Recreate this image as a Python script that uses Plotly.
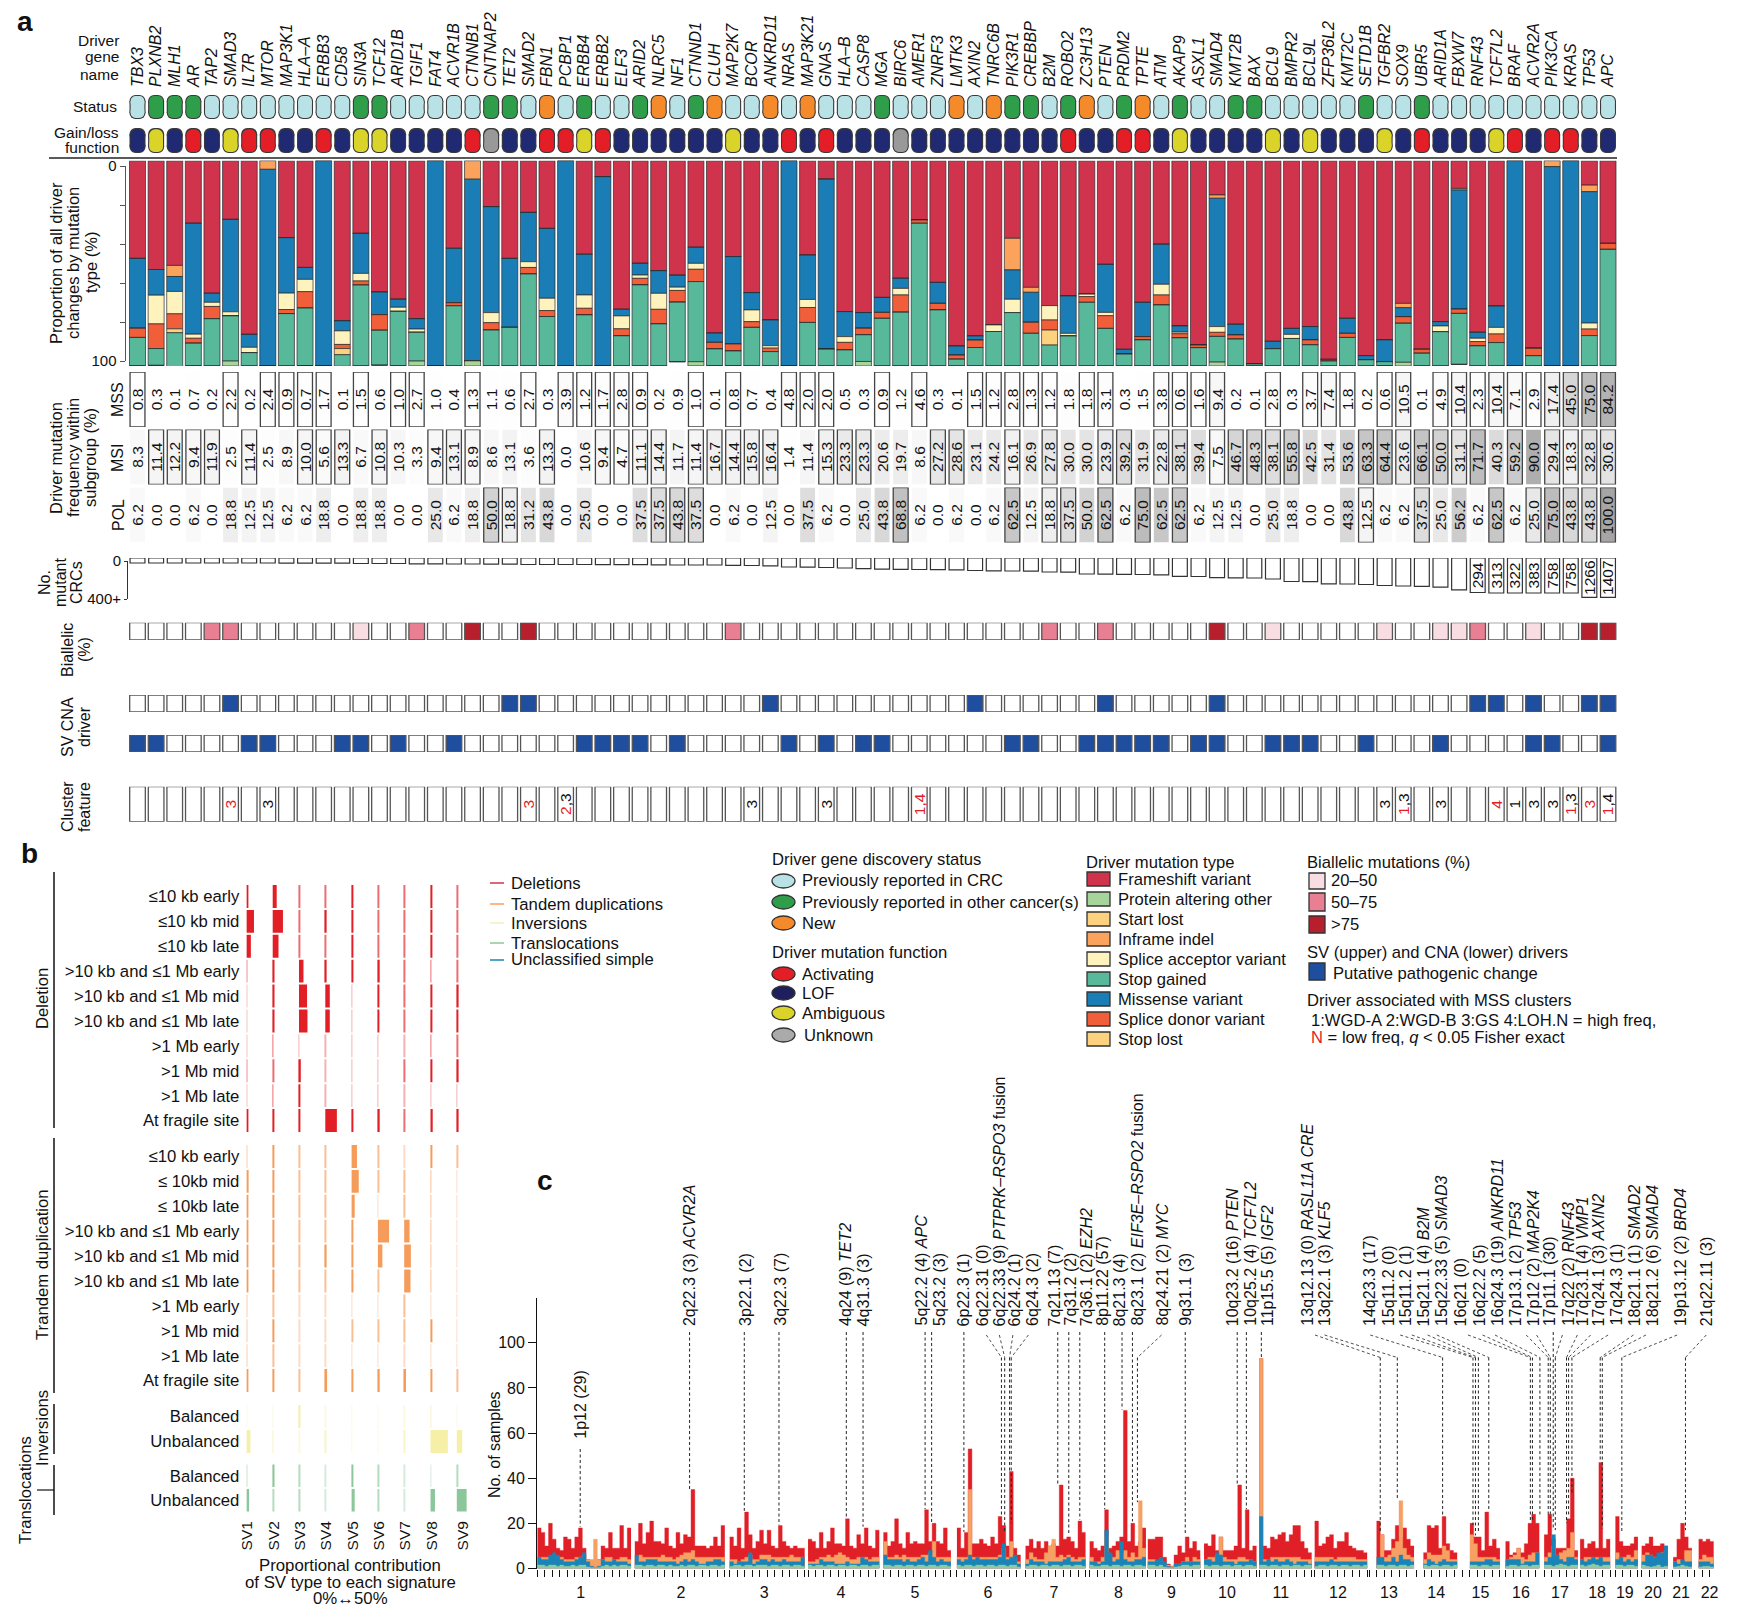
import numpy as np
import plotly.graph_objects as go

W, H = 1752, 1608
FONT = "Liberation Sans"

# ---------------------------- panel a data ----------------------------
genes = """TBX3 PLXNB2 MLH1 AR TAP2 SMAD3 IL7R MTOR MAP3K1 HLA–A ERBB3 CD58 SIN3A TCF12 ARID1B TGIF1 FAT4 ACVR1B CTNNB1 CNTNAP2
TET2 SMAD2 FBN1 PCBP1 ERBB4 ERBB2 ELF3 ARID2 NLRC5 NF1 CTNND1 CLUH MAP2K7 BCOR ANKRD11 NRAS MAP3K21 GNAS HLA–B CASP8
MGA BIRC6 AMER1 ZNRF3 LMTK3 AXIN2 TNRC6B PIK3R1 CREBBP B2M ROBO2 ZC3H13 PTEN PRDM2 TPTE ATM AKAP9 ASXL1 SMAD4 KMT2B
BAX BCL9 BMPR2 BCL9L ZFP36L2 KMT2C SETD1B TGFBR2 SOX9 UBR5 ARID1A FBXW7 RNF43 TCF7L2 BRAF ACVR2A PIK3CA KRAS TP53 APC""".split()

status = list("COOOCCCCCCCCOOCCCCCO" "OCNCOCCONCONCCNCNCCC" "OCCCNCNOOCONCONCOCCO" "OCCCCCOCCOCCCCCCCCCC")
function = list("LYLALYAALLALYYLLLLAU" "LLAAYALLLLLLYLLALALL" "LULLLLLLLLALLAALYLLL" "LYLYLLLYLALLLYALAALL")

frameshift = [47.6,53,51,30.5,64.6,28.6,84.6,0,37.5,52, 0,78,35.4,64,67.5,77,0,42.7,0,22.4,
              47.6,25.2,33,0,45.6,7.8,72.4,50,53.6,55.8, 42.2,84,46.7,64.3,77.6,0,46,9,73.5,74,
              66.6,57.3,28.9,59.3,90.3,85.4,80,37.8,61.7,70.6, 65.9,65,50.5,91.9,69,40.7,80.5,89.8,16.7,79.7,
              99,88,81.7,80.8,96.8,76.8,95,87.3,69.5,91.9, 78.4,13.5,83.6,70.8,0,91.4,0,0,11.9,40.3]
inframe = [0,0,5.4,0,0,0,0,4.2,0,0, 0,0,0,0,0,0,0,0,9,0, 0,0,0,0,0,0,0,0,0,0, 0,0,0,0,0,0,0,0,0,0,
           0,0,0,0,0,0,0,15.4,2.4,0, 0,0,0,0,0,0,0,0,1.6,0, 0,0,0,0,0,0,0,0,2.1,0, 0,0.8,0,0,0,0,2.9,0,3.2,0]
missense = [34,12.5,7.3,54,4.4,45,6.3,95.8,27,5.8, 100,4.9,19.5,11,3.9,5,100,26.5,88.5,51.6,
            33.6,24,34,100,19.8,92.2,3.2,5.7,11,5.8, 7.8,4.5,42.6,8.4,12.5,100,21.6,82.8,12.2,7.6,
            7.3,4.9,0,10.2,4.4,2,0,14.3,14.6,0, 18.2,0,23.4,2.3,16.7,19.5,3,0,62.5,5.2,
            0,3.6,2.9,6.5,0,7.3,2,10.6,4.4,0, 2.1,58,2.9,10.4,100,0,97.1,100,64,0]
acceptor = [0,14,10.9,2,2,2,2.6,0,8,6, 0,6.6,3.7,0,2,1.6,0,0,0,4.9,
            0,2.8,6,0,6.5,0,6.3,1.6,7.8,1.6, 2.9,0,0,5.7,1.2,0,3.9,0,2.8,0,
            0,3.2,0,0,0,0,3.2,6.5,0,7, 1.3,1.2,1.6,0,0,5.2,0.8,0,2.8,0,
            0,0,2,0,0,0,0,0,0,0, 2.8,0,1.6,3.2,0,0,0,0,2.9,0]
donor = [4.5,12,7.3,2.4,6,0,0,0,2,8, 0,2,2,7.6,0,0,0,1.5,0,3.6,
         0,3.2,2.9,0,3.2,0,3.4,3.2,7.1,5.7, 6,3.2,3.4,2.8,1.7,0,7.3,0,3.7,3.2,
         2.9,8.4,1.6,3.2,2,3.6,0,0,5.4,4.9, 0,2.8,6.2,0,1.6,4.9,2,1.3,2,2,
         0,0,0,2.4,0.8,2,0,0,3.2,1.9, 0,2.1,2.1,4.2,0,3.6,0,0,3.2,2.9]
start_lost = [0,0,1.9,0,0,0,0,0,0,0, 0,3,0,0,0,0,0,0,0,0, 0,0,0,0,0,0,0,0,0,0, 0,0,0,0,0,0,0,0,0,0,
              0,0,0,0,0,0,0,0,0,7.3, 0,0,0,0,0,0,0,0,0,0, 0,0,0,0,0,0,0,0,0,0, 0,0,0,0,0,0,0,0,0,0]
stop_gained = [13.8,8.2,16.6,11,23,22,6.5,0,25.5,28, 0,5.7,39.4,17,26.5,14,0,29.3,0,17.5,
               18.8,44.8,24,0,24.9,0,14.7,39.5,20.5,29, 39,8.2,7.2,18.8,7,0,21.2,8.2,7.8,13,
               23.2,26.2,69.5,27.3,3.3,9,16.8,26,15.9,10.2, 14.6,31,18.3,5.8,12.7,29.7,13.7,8.9,12.5,13.1,
               1,8.4,13.4,10.3,2.4,13.9,3,2,19,6.2, 16.7,24.8,9.8,11.4,0,5,0,0,14.8,56.8]
protein_other = [0,0,0,0,0,2.4,0,0,0,0, 0,0,0,0,0,2.3,0,0,2.5,0, 0,0,0,0,0,0,0,0,0,0, 2,0,0,0,0,0,0,0,0,2.2,
                 0,0,0,0,0,0,0,0,0,0, 0,0,0,0,0,0,0,0,1.9,0, 0,0,0,0,0,0,0,0,1.8,0, 0,0,0,0,0,0,0,0,0,0]

mss = [0.8,0.3,0.1,0.7,0.2,2.2,0.2,2.4,0.9,0.7, 1.7,0.1,1.5,0.6,1.0,2.7,1.0,0.4,1.3,1.1,
       0.6,2.7,0.3,3.9,1.2,1.7,2.8,0.9,0.2,0.9, 1.0,0.1,0.8,0.7,0.4,4.8,2.0,2.0,0.5,0.3,
       0.9,1.2,4.6,0.3,0.1,1.5,1.2,2.8,1.3,1.2, 1.8,1.8,3.1,0.3,1.5,3.8,0.6,1.6,9.4,0.2,
       0.1,2.8,0.3,3.7,7.4,1.8,0.2,0.6,10.5,0.1, 4.9,10.4,2.3,10.4,7.1,2.9,17.4,45.0,75.0,84.2]
msi = [8.3,11.4,12.2,9.4,11.9,2.5,11.4,2.5,8.9,10.0, 5.6,13.3,6.7,10.8,10.3,3.3,9.4,13.1,8.9,8.6,
       13.1,3.6,13.3,0.0,10.6,9.4,4.7,11.1,14.4,11.7, 11.4,16.7,14.4,15.8,16.4,1.4,11.4,15.3,23.3,23.3,
       20.6,19.7,8.6,27.2,28.6,23.1,24.2,16.1,26.9,27.8, 30.0,30.0,23.9,39.2,31.9,22.8,38.1,39.4,7.5,46.7,
       48.3,38.1,55.8,42.5,31.4,53.6,63.3,64.4,23.6,66.1, 50.0,31.1,71.7,40.3,59.2,90.0,29.4,18.3,32.8,30.6]
pol = [6.2,0,0,6.2,0,18.8,12.5,12.5,6.2,6.2, 18.8,0,18.8,18.8,0,0,25,6.2,18.8,50,
       18.8,31.2,43.8,0,25,0,0,37.5,37.5,43.8, 37.5,0,6.2,0,12.5,0,37.5,6.2,0,25,
       43.8,68.8,6.2,0,6.2,0,6.2,62.5,12.5,18.8, 37.5,50,62.5,6.2,75,62.5,62.5,6.2,12.5,12.5,
       0,25,18.8,0,0,43.8,12.5,6.2,6.2,37.5, 25,56.2,6.2,62.5,6.2,25,75,43.8,43.8,100]
mss_boxed = [1,6,8,9,10,11,13,15,16,19,22,24,25,26,27,28,31,33,36,37,38,41,43,46,47,48,49,50,52,53,56,57,58,59,62,64,65,66,68,69,71,72,73,74,75,76,77,78,79,80]
msi_boxed = [2,3,4,5,7,10,11,12,14,17,18,19,23,26,27,28,29,31,32,33,34,35,38,39,40,44,45,48,50,53,54,56,57,59,60,61,62,63,67,68,69,70,71,72,73,75,77,78,79,80]
pol_boxed = [20,21,29,30,31,42,48,50,51,53,55,57,67,70,74,76,77,78,79,80]

mutant_depth = [50,50,50,50,50,50,50,50,52,52, 52,52,55,55,55,58,58,60,60,62, 62,65,65,65,65,67,67,67,68,70,
                70,70,73,75,78,90,92,95,100,107, 112,113,115,117,118,125,128,130,132,140, 142,160,162,163,165,168,183,185,197,198,
                200,210,235,237,258,260,265,275,280,283, 292,318,345,350,350,350,350,350,393,393]
mutant_counts = {73: "294", 74: "313", 75: "322", 76: "383", 77: "758", 78: "758", 79: "1266", 80: "1407"}

biallelic_light = [13,62,68,71,72,76]
biallelic_mid = [5,6,16,33,50,53,73]
biallelic_dark = [19,22,59,79,80]
sv_driver = [6,21,22,35,46,53,59,73,74,76,79,80]
cna_driver = [1,2,7,8,12,13,15,18,25,26,27,28,30,36,38,40,41,48,49,52,53,54,55,56,58,59,62,63,64,67,71,76,77,80]
RED = '<span style="color:#E41E26">%s</span>'
cluster_feature = {6: RED % "3", 8: "3", 22: RED % "3", 24: RED % "2" + ",3", 34: "3", 38: "3", 43: RED % "1,4",
                   68: "3", 69: RED % "1" + ",3", 71: "3", 74: RED % "4", 75: "1", 76: "3", 77: "3",
                   78: RED % "1" + ",3", 79: RED % "3", 80: RED % "1" + ",4"}

# ---------------------------- panel b data (percent) ----------------------------
sv_names = ["SV1","SV2","SV3","SV4","SV5","SV6","SV7","SV8","SV9"]
size_rows = ["≤10 kb early","≤10 kb mid","≤10 kb late",">10 kb and ≤1 Mb early",">10 kb and ≤1 Mb mid",
             ">10 kb and ≤1 Mb late",">1 Mb early",">1 Mb mid",">1 Mb late","At fragile site"]
dup_rows = ["≤10 kb early","≤ 10kb mid","≤ 10kb late",">10 kb and ≤1 Mb early",">10 kb and ≤1 Mb mid",
            ">10 kb and ≤1 Mb late",">1 Mb early",">1 Mb mid",">1 Mb late","At fragile site"]
bal_rows = ["Balanced","Unbalanced"]
deletion_pct = [[3.4,7.6,1.7,1.3,2.1,1.7,1.7,2.5,1.3],[14.4,19.5,1.7,2.5,2.5,1.3,1.7,2.5,1.3],[8.5,11,1.7,1.7,2.1,1.7,1.3,2.5,1.3],
                [1.3,3.4,8.5,2.5,2.5,3.4,1.7,1.7,1.7],[0.85,3.4,15.3,8.5,0.85,2.1,1.7,2.5,3.4],[0.85,3.4,16.1,8.5,0.85,2.1,1.7,2.5,2.5],
                [0.4,1.3,0.4,0.85,0.4,0.85,0.85,1.7,1.3],[1.3,1.7,3.4,0.85,0.4,0.85,1.3,3.4,3.4],[0.85,1.3,2.1,0.85,0.4,0.4,0.85,0.85,0.85],
                [3.4,2.5,2.5,22,2.5,3.4,1.7,4.2,3.4]]
tandem_pct = [[1.7,2.5,1.7,1.3,10.2,1.7,0.85,3.4,1.3],[4.2,2.5,1.7,1.3,13.6,1.7,1.7,1.7,0.85],[3.4,2.5,1.7,1.3,5.9,0.85,1.7,1.7,0.85],
              [2.5,2.5,1.7,1.3,2.1,21.2,10.2,1.7,0.85],[2.5,2.5,1.3,2.5,2.5,8.5,12.7,1.7,0.85],[3.4,2.5,1.3,1.7,2.1,1.7,11.9,1.7,0.85],
              [1.3,1.7,0.85,0.85,0.4,0.4,1.3,0.85,0.4],[1.3,2.1,0.85,0.85,1.7,1.3,1.7,3.4,0.85],[1.3,1.7,0.85,0.85,0.4,0.4,0.85,0.85,0.4],
              [3.4,2.5,1.7,3.4,2.1,3.4,3.4,3.4,1.7]]
inversion_pct = [[0.85,0.85,2.5,0.85,0.4,0.4,0.85,1.7,0.85],[7.6,1.3,0.85,1.3,0.4,0.85,1.3,33,10.2]]
transloc_pct = [[1.7,3.4,1.7,0.85,2.5,1.7,0.85,0.85,1.3],[5.1,1.7,1.7,0.85,5.9,1.7,0.85,8.5,18.7]]

# ---------------------------- panel c data (10 Mb bins, per chromosome) ----------------------------
chrom_start_mb = [0,260,513,722,923,1119,1302,1473,1628,1778,1925,2073,2238,2363,2487,2582,2685,2781,2875,2945,3029,3097]
chrom_label_mb = [116,383,605,810,1007,1202,1378,1550,1691,1839,1983,2135,2271,2397,2515,2623,2727,2826,2900,2975,3050,3126]
chrom_tick_start_mb = [0,260,513,722,923,1119,1302,1473,1628,1778,1925,2073,2219,2345,2466,2582,2685,2781,2875,2945,3027,3086]
chrom_names = [str(i) for i in range(1, 23)]
deletions_top = [
 [18,16,10,20,13,9,8,14,13,9,14,18,9,4,3,3,4,10,9,16,9,9,19,9,18],
 [12,20,11,16,21,12,12,11,18,10,9,16,11,15,14,35,10,10,10,9,10,14,10,19],
 [14,10,18,9,25,15,9,12,17,11,17,10,9,19,12,10,9,10,9,9],
 [13,12,9,16,9,12,18,11,11,10,22,10,9,15,11,18,10,9,17],
 [16,10,12,22,11,9,16,11,12,11,11,26,12,20,12,11,18,8],
 [18,9,16,53,11,11,13,11,10,14,11,23,19,10,43,9,6],
 [10,13,9,12,9,12,10,11,10,37,13,14,12,9,21,16],
 [12,9,8,10,26,9,10,12,14,70,12,20,10,12,18],
 [13,13,14,14,5,2,1,6,10,7,14,9,12,8],
 [11,10,15,8,14,8,8,8,10,37,9,26,8,10],
 [93,10,9,14,13,15,16,12,15,19,19,12,9,7],
 [21,10,11,14,15,9,12,12,16,10,9,8,8,7],
 [21,15,8,8,13,19,14,18,13,10],
 [7,19,18,19,9,23,11,8,7],
 [20,14,14,8,25,10,13,9],
 [12,6,7,9,7,11,20,24,20],
 [15,24,13,9,9,9,22,40,8],
 [13,9,11,12,9,47,9,13],
 [23,12,10,10,11,14],
 [10,11,14,10,10,11,10],
 [5,13,20,14,9],
 [13,12,13,12]]
tandem_top = [
 [5,5,5,5,6,5,5,4,4,4,5,5,6,4,4,13,4,4,5,5,4,4,5,5,4],
 [5,6,5,5,5,5,5,6,5,5,4,5,6,7,7,8,5,5,5,5,5,5,5,5],
 [4,4,3,4,5,6,4,4,6,6,6,5,5,5,5,5,6,5,5,5],
 [3,3,4,5,5,6,5,6,7,6,5,4,4,5,5,5,4,5,5],
 [12,5,5,6,5,6,5,5,5,5,6,6,7,12,5,5,5,5],
 [5,5,5,35,5,5,5,5,5,5,5,6,9,5,12,5,3],
 [4,7,5,4,4,7,10,13,5,6,5,6,5,4,5,5],
 [5,3,3,5,14,5,5,8,7,8,5,7,5,30,9],
 [4,4,3,4,2,1.5,1,2,2,3,5,3,5,4],
 [4,5,5,6,14,5,4,4,4,5,5,4,4,3],
 [93,4,4,5,5,5,5,5,5,5,5,4,4,4],
 [5,5,5,5,5,4,5,5,5,5,5,4,4,4],
 [4,15,5,6,9,12,30,9,6,5],
 [4,7,6,6,6,10,8,4,4],
 [15,11,5,5,5,5,5,4],
 [4,5,6,9,5,4,6,7,7],
 [5,7,10,6,7,8,9,16,5],
 [4,5,5,5,5,5,5,5],
 [7,5,5,6,5,8],
 [6,7,6,5,5,7,8],
 [3,4,3,8,8],
 [4,6,5,5]]
unclassified_top = [
 [5,4,4,6,7,6,4,3,3,3,4,5,7,3,1,0.5,1,4,3,3,4,3,3,3,2],
 [6,3,3,4,4,4,3,3,3,3,3,2,3,4,3,4,3,2,2,3,3,4,4,3],
 [3,2,3,3,3,7,2,3,4,4,3,4,3,3,4,3,3,3,3,5],
 [2,2,2,4,3,3,3,2,2,2,3,2,2,2,5,4,3,3,3],
 [6,4,4,4,4,3,4,3,3,4,5,3,8,5,3,4,3,3],
 [4,3,4,6,4,5,4,4,4,4,4,5,11,4,5,6,2],
 [2,4,3,3,3,2,3,3,3,3,4,5,3,3,3,4],
 [3,3,2,3,17,7,3,4,12,4,3,3,4,4,5],
 [3,3,4,5,3,1,0.5,2,2,3,3,3,3,3],
 [4,4,3,7,6,3,3,3,2,3,3,3,4,3],
 [23,3,4,3,4,3,3,4,3,2,3,3,3,2],
 [3,3,3,3,4,3,3,3,3,3,3,3,3,3],
 [5,5,3,3,5,3,6,4,4,3],
 [2,4,3,2,3,4,3,3,3],
 [3,3,3,3,4,4,3,3],
 [4,4,4,4,2,3,3,3,7],
 [3,5,15,6,4,3,5,5,4],
 [4,3,4,5,4,5,3,3],
 [4,5,3,4,3,4],
 [3,6,6,5,7,7,10],
 [3,2,4,3,3],
 [3,3,3,2]]
translocations_top = [
 [1.5,1.5,1,1.5,1.5,1,1.5,1,1,1.5,1,1.5,1.5,0.7,0.4,0.4,0.4,1,1.5,1,1.5,1,1.5,1.5,1],
 [1.5,1.5,1,1.5,1.5,1,1.5,1.5,1,1.5,1,1,1.5,1,1.5,1.5,1,1.5,1.5,1,1.5,1.5,1,1.5],
 [1,1.5,1.5,1,1.5,1.5,1,1.5,1.5,1.5,1,1.5,1.5,1,1.5,1.5,1,1.5,1.5,1],
 [1.5,1,1.5,1.5,1,1.5,1.5,1,1.5,1.5,1,1.5,1.5,1,1.5,1.5,1,1.5,1.5],
 [1.5,1.5,1,1.5,1.5,1,1.5,1.5,1,1.5,1.5,1,1.5,1.5,1,1.5,1.5,1],
 [1.5,1,1.5,1.5,1,1.5,1.5,1,1.5,1.5,1,1.5,1.5,1,1.5,1.5,0.7],
 [1,1.5,1.5,1,1.5,1.5,1,1.5,1.5,1,1.5,1.5,1,1.5,1.5,1],
 [1.5,1,1,1.5,1.5,1,1.5,1.5,1,1.5,1.5,1,1.5,1.5,1],
 [1.5,1.5,1,1.5,0.7,0.4,0.4,0.7,1,1.5,1.5,1,1.5,1.5],
 [1.5,1,1.5,1.5,1,1.5,1.5,1,1.5,1.5,1,1.5,1.5,1],
 [1.5,1.5,1,1.5,1.5,1,1.5,1.5,1,1.5,1.5,1,1.5,1.5],
 [1,1.5,1.5,1,1.5,1.5,1,1.5,1.5,1,1.5,1.5,1,1.5],
 [1.5,1.5,1,1.5,1.5,1,1.5,1.5,1,1.5],
 [1.5,1,1.5,1.5,1,1.5,1.5,1,1.5],
 [1.5,1.5,1,1.5,1.5,1,1.5,1.5],
 [1,1.5,1.5,1,1.5,1.5,1,1.5,1.5],
 [1.5,1.5,1,1.5,2,1.5,1,1.5,1.5],
 [1.5,1,1.5,2,1.5,1,1.5,1.5],
 [1.5,1.5,1,1.5,1.5,1],
 [1.5,1,0.7,1,1.5,0.7,1],
 [0.7,1,1.5,1,0.7],
 [0.7,1,1,0.7]]

# labels of panel c; leaders given as (label, label x, leader x at top, leader x at bottom, leader bottom y)
labels_left = [("1p12 (29)",270,270,270,1335),("2q22.3 (3) <i>ACVR2A</i>",538,538,538,1228),("3p22.1 (2)",675,672,672,1290),
 ("3q22.3 (7)",760,757,757,1330),("4q24 (9) <i>TET2</i>",920,922,922,1310),("4q31.3 (3)",965,963,963,1335),
 ("5q22.2 (4) <i>APC</i>",1105,1115,1115,1285),("5q23.2 (3)",1150,1131,1131,1325),("6p22.3 (1)",1210,1210,1210,1350),
 ("6q22.31 (0)",1255,1265,1302,1305),("6q22.33 (9) <i>PTPRK–RSPO3</i> fusion",1297,1297,1310,1350),
 ("6q24.2 (1)",1335,1330,1322,1180),("6q24.3 (2)",1378,1368,1326,1325),("7q21.13 (7)",1432,1440,1440,1215),
 ("7q31.2 (2)",1470,1467,1467,1360),("7q36.1 (2) <i>EZH2</i>",1510,1494,1494,1315),("8p11.22 (57)",1548,1555,1555,1285)]
labels_right = [("8q21.3 (4)",48,53,53,1000),("8q23.1 (2) <i>EIF3E–RSPO2</i> fusion",88,78,78,1320),
 ("8q24.21 (2) <i>MYC</i>",148,148,90,1265),("9q31.1 (3)",205,205,205,1360),("10q23.2 (16) <i>PTEN</i>",318,330,330,1212),
 ("10q25.2 (4) <i>TCF7L2</i>",360,352,352,1285),("11p15.5 (5) <i>IGF2</i>",403,388,388,850),
 ("13q12.13 (0) <i>RASL11A CRE</i>",497,517,674,1350),("13q22.1 (3) <i>KLF5</i>",540,540,715,1260),
 ("14q23.3 (17)",648,650,824,1305),("15q11.2 (0)",694,722,897,1330),("15q11.2 (1)",735,750,903,1360),
 ("15q21.1 (4) <i>B2M</i>",778,788,910,1350),("15q22.33 (5) <i>SMAD3</i>",820,810,935,1290),("16q21 (0)",868,885,1035,1320),
 ("16q22.2 (5)",912,920,1040,1315),("16q24.3 (19) <i>ANKRD11</i>",955,950,1058,1300),("17p13.1 (2) <i>TP53</i>",1000,1025,1078,1300),
 ("17p12 (2) <i>MAP2K4</i>",1042,1050,1083,1310),("17p11.1 (30)",1080,1090,1090,1345),("17q22 (2) <i>RNF43</i>",1125,1112,1095,1345),
 ("17q23.1 (4) <i>VMP1</i>",1160,1148,1122,1325),("17q24.1 (3) <i>AXIN2</i>",1200,1180,1127,1300),("17q24.3 (1)",1240,1222,1135,1240),
 ("18q21.1 (1) <i>SMAD2</i>",1285,1283,1203,1150),("18q21.2 (6) <i>SMAD4</i>",1328,1313,1208,1340),
 ("19p13.12 (2) <i>BRD4</i>",1395,1388,1255,1350),("21q22.11 (3)",1458,1458,1408,1345)]

# ---------------------------- colours ----------------------------
STATUS_COL = {"C": "#B8E2E6", "O": "#2E9E4B", "N": "#F58A2A"}
FUNC_COL = {"A": "#E41E26", "L": "#1F2A72", "Y": "#DAD42A", "U": "#999999"}
TYPE_COL = {"Frameshift variant": "#D0344C", "Protein altering other": "#A6D49A", "Start lost": "#FDD27E",
            "Inframe indel": "#FBA35C", "Splice acceptor variant": "#FEF3BC", "Stop gained": "#58B99A",
            "Missense variant": "#1B7DB5", "Splice donor variant": "#F15F3A", "Stop lost": "#FDD27E"}
BI_COL = ["#FFFFFF", "#F8DDE3", "#E97F92", "#B81F2D"]
BLUE = "#1F4E9E"
OUT = "#555555"
LEG = 16.6

# ---------------------------- helpers ----------------------------
def dx(a, b): return [a / W, b / W]
def dy(t, b): return [1 - b / H, 1 - t / H]
annotations, shapes, traces = [], [], []

def note(text, x, y, size=LEG, xa="left", ya="middle", angle=0, color="#111", bold=False, align=None):
    annotations.append(dict(text=f"<b>{text}</b>" if bold else text, x=x / W, y=1 - y / H, xref="paper", yref="paper",
                            showarrow=False, xanchor=xa, yanchor=ya, textangle=angle,
                            align=align or {"left": "left", "right": "right", "center": "center"}[xa],
                            font=dict(family=FONT, size=size, color=color), borderpad=0))

def rotated(lines, x_positions, y, size=16.5):
    for text, x in zip(lines, x_positions):
        note(text, x, y, size=size, xa="center", angle=-90)

def line(x0, y0, x1, y1, color="#111", width=1.3, dash=None):
    shapes.append(dict(type="line", xref="paper", yref="paper", x0=x0 / W, x1=x1 / W, y0=1 - y0 / H, y1=1 - y1 / H,
                       line=dict(color=color, width=width, dash=dash)))

def box(x0, y0, x1, y1, fill, kind="rect", color="#333", width=1.3):
    shapes.append(dict(type=kind, xref="paper", yref="paper", x0=x0 / W, x1=x1 / W, y0=1 - y0 / H, y1=1 - y1 / H,
                       fillcolor=fill, line=dict(color=color, width=width)))

xs = list(range(len(genes)))
ONE = [1] * len(genes)

def row(yid, colors, lcol, lw, text=None, y=None, width=0.84, tsize=15.5):
    traces.append(go.Bar(x=xs, y=y if y is not None else ONE, base=0, xaxis="x", yaxis=yid, width=width,
                         marker=dict(color=colors, line=dict(color=lcol, width=lw)), text=text,
                         textposition="inside" if text is not None else None, textangle=-90,
                         insidetextanchor="middle", constraintext="none", cliponaxis=False,
                         textfont=dict(family=FONT, size=tsize, color="#111"), hoverinfo="skip", showlegend=False))

def pills(yid, codes, cmap):
    cols = [cmap[c] for c in codes]
    for colour, w, top, r in (("#3a3a3a", 0.86, 1.05, 8), (cols, 0.74, 0.96, 7)):
        for sign in (1, -1):
            traces.append(go.Bar(x=xs, y=[sign * top] * len(xs), base=-sign * 0.05, xaxis="x", yaxis=yid, width=w,
                                 marker=dict(color=colour, line=dict(width=0), cornerradius=r), hoverinfo="skip", showlegend=False))
        traces.append(go.Bar(x=xs, y=[1] * len(xs), base=-0.5, xaxis="x", yaxis=yid, width=w,
                             marker=dict(color=colour, line=dict(width=0)), hoverinfo="skip", showlegend=False))

# ---------------------------- panel a traces ----------------------------
stack = [("Frameshift variant", frameshift), ("Inframe indel", inframe), ("Missense variant", missense),
         ("Splice acceptor variant", acceptor), ("Splice donor variant", donor), ("Start lost", start_lost),
         ("Stop gained", stop_gained), ("Protein altering other", protein_other)]
base = np.zeros(len(genes))
for name, vals in stack:
    traces.append(go.Bar(x=xs, y=vals, base=base.tolist(), xaxis="x", yaxis="y", width=0.86, name=name, showlegend=False,
                         marker=dict(color=TYPE_COL[name], line=dict(color="#2a2a2a", width=0.7)), hoverinfo="skip"))
    base = base + np.array(vals)

pills("y2", status, STATUS_COL)
pills("y3", function, FUNC_COL)

def gray(v):
    g = int(round(255 - 0.9 * v))
    return f"rgb({g},{g},{g})"

for yid, vals, boxed in (("y4", mss, mss_boxed), ("y5", msi, msi_boxed), ("y6", pol, pol_boxed)):
    row(yid, [gray(v) for v in vals], "#444444", [1.3 if i + 1 in boxed else 0 for i in xs], text=[f"{v:.1f}" for v in vals], width=0.8)

row("y7", ["#FFFFFF"] * 80, "#333333", 1.2, y=mutant_depth,
    text=[mutant_counts.get(i + 1, "") for i in xs], width=0.8, tsize=15.5)
row("y8", [BI_COL[1 if i + 1 in biallelic_light else 2 if i + 1 in biallelic_mid else 3 if i + 1 in biallelic_dark else 0] for i in xs], OUT, 1.3)
row("y9", [BLUE if i + 1 in sv_driver else "#FFFFFF" for i in xs], OUT, 1.3)
row("y10", [BLUE if i + 1 in cna_driver else "#FFFFFF" for i in xs], OUT, 1.3)
row("y11", ["#FFFFFF"] * 80, OUT, 1.3, text=[cluster_feature.get(i + 1, "") for i in xs], tsize=15.5)
for yid in ("y12", "y13"):
    traces.append(go.Scatter(x=[None], y=[None], xaxis="x", yaxis=yid, showlegend=False, hoverinfo="skip"))

# ---------------------------- panel b traces ----------------------------
groups = [("y14", size_rows, deletion_pct, "#E21F26"), ("y15", dup_rows, tandem_pct, "#F69C5B"),
          ("y16", bal_rows, inversion_pct, "#F5EFA8"), ("y17", bal_rows, transloc_pct, "#8CC79B")]
for yid, rows_, table, col in groups:
    for s in range(len(sv_names)):
        vals = [r[s] for r in table]
        traces.append(go.Bar(y=list(range(len(rows_))), x=vals, base=s * 50, orientation="h",
                             xaxis="x2", yaxis=yid, width=0.92,
                             marker=dict(color=col, line=dict(width=0), opacity=[0.35 if v < 1 else 0.65 if v < 2 else 1 for v in vals]),
                             hoverinfo="skip", showlegend=False))

# ---------------------------- panel c traces ----------------------------
BIN = 10
AREAS = [(deletions_top, "#E01F26"), (tandem_top, "#F6A063"), (unclassified_top, "#1A84B8"), (translocations_top, "#8CCB9E")]
for c, start in enumerate(chrom_start_mb):
    for series, color in AREAS:
        vals = series[c]
        traces.append(go.Scatter(x=[start + i * BIN for i in range(len(vals))] + [start + len(vals) * BIN],
                                 y=list(vals) + [vals[-1]], mode="lines", fill="tozeroy", fillcolor=color,
                                 xaxis="x3", yaxis="y18", line=dict(color=color, width=0.4, shape="hv"),
                                 showlegend=False, hoverinfo="skip"))

bx, by, minor = [], [], []
for ts, start, vals in zip(chrom_tick_start_mb, chrom_start_mb, deletions_top):
    end = start + len(vals) * BIN
    bx += [ts, end, None]
    by += [-0.5, -0.5, None]
    minor += list(range(ts, end + 1, 20))
traces.append(go.Scatter(x=bx, y=by, mode="lines", xaxis="x3", yaxis="y18", line=dict(color="#111", width=1.6),
                         cliponaxis=False, showlegend=False, hoverinfo="skip"))

# ---------------------------- layout ----------------------------
def y_hidden(t, b, rng, anchor="x"):
    return dict(domain=dy(t, b), range=rng, anchor=anchor, showgrid=False, zeroline=False, showticklabels=False,
                ticks="", showline=False)

layout = dict(template="none", width=W, height=H, margin=dict(l=0, r=0, t=0, b=0, pad=0), autosize=False,
              paper_bgcolor="white", plot_bgcolor="rgba(0,0,0,0)",
              barmode="overlay", showlegend=False, font=dict(family=FONT, color="#111"))
layout["xaxis"] = dict(domain=dx(128.2, 1617.3), range=[-0.5, 79.5], anchor="free", position=1 - 87 / H, side="top",
                       tickmode="array", tickvals=xs, ticktext=[f"<i>{g}</i>" for g in genes], tickangle=-90, ticks="",
                       showgrid=False, zeroline=False, showline=False, tickfont=dict(family=FONT, size=16, color="#111"))
layout["yaxis"] = y_hidden(160.7, 366, [100, 0])
layout["yaxis2"] = y_hidden(95, 119, [-1, 1])
layout["yaxis3"] = y_hidden(128, 153, [-1, 1])
layout["yaxis4"] = y_hidden(372, 427, [0, 1])
layout["yaxis5"] = y_hidden(429.5, 484.5, [0, 1])
layout["yaxis6"] = y_hidden(487.5, 542.5, [0, 1])
layout["yaxis7"] = y_hidden(558, 600, [420, 0])
layout["yaxis8"] = y_hidden(622.7, 640, [0, 1])
layout["yaxis9"] = y_hidden(695, 712, [0, 1])
layout["yaxis10"] = y_hidden(735, 752, [0, 1])
layout["yaxis11"] = y_hidden(786.7, 821.7, [0, 1])
layout["yaxis12"] = dict(domain=dy(166, 361), range=[100, 0], anchor="free", position=124.5 / W, side="left", tickmode="array",
                         tickvals=[0, 20, 40, 60, 80, 100], ticktext=["0", "", "", "", "", "100"], ticks="outside", ticklen=5,
                         tickcolor="#555", showline=True, linecolor="#555", linewidth=1, showgrid=False, zeroline=False,
                         tickfont=dict(family=FONT, size=15, color="#111"))
layout["yaxis13"] = dict(domain=dy(561, 599), range=[400, 0], anchor="free", position=127 / W, side="left", tickmode="array",
                         tickvals=[0, 400], ticktext=["0", "400+"], ticks="outside", ticklen=3, tickcolor="#333",
                         showline=True, linecolor="#333", linewidth=1, showgrid=False, zeroline=False,
                         tickfont=dict(family=FONT, size=15, color="#111"))

layout["xaxis2"] = dict(domain=dx(246.4, 509.4), range=[0, 500], anchor="free", position=1 - 1517 / H, tickmode="array",
                        tickvals=[s * 50 + 2 for s in range(8)] + [8 * 50 + 12], ticktext=sv_names, tickangle=-90, ticks="",
                        showgrid=False, zeroline=False, showline=False, tickfont=dict(family=FONT, size=15.5, color="#111"))
for (yid, rows_, _, _), (t, b) in zip(groups, [(884, 1133), (1144, 1393), (1404, 1454), (1463.5, 1512.5)]):
    layout["yaxis" + yid[1:]] = dict(domain=dy(t, b), range=[len(rows_) - 0.5, -0.5], anchor="x2", tickmode="array",
                                     tickvals=list(range(len(rows_))), ticktext=rows_, ticks="", ticklabelstandoff=6, showgrid=False,
                                     zeroline=False, showline=False, tickfont=dict(family=FONT, size=16.7, color="#111"))

layout["xaxis3"] = dict(domain=dx(537.3, 1720), range=[0, 3153.9], anchor="y18", tickmode="array", tickvals=chrom_label_mb,
                        ticktext=chrom_names, ticks="outside", ticklen=0, ticklabelstandoff=9, tickangle=0, showgrid=False, zeroline=False,
                        showline=False, tickfont=dict(family=FONT, size=16, color="#111"),
                        minor=dict(tickmode="array", tickvals=minor, ticks="outside", ticklen=7, tickcolor="#111", tickwidth=1.3, showgrid=False))
layout["yaxis18"] = dict(domain=dy(1297.7, 1568.5), range=[0, 120], anchor="x3", tickmode="array", tickvals=[0, 20, 40, 60, 80, 100],
                         ticks="outside", ticklen=8, tickcolor="#111", tickwidth=1.3, showline=True, linecolor="#111", linewidth=1.4,
                         showgrid=False, zeroline=False, tickfont=dict(family=FONT, size=16, color="#111"))

# ---------------------------- panel a text ----------------------------
note("a", 25, 21, size=28, xa="center", bold=True)
note("b", 29, 853, size=28, xa="center", bold=True)
note("c", 545, 1180, size=28, xa="center", bold=True)
for text, y in (("Driver", 40), ("gene", 57), ("name", 74), ("Gain/loss", 132), ("function", 148)):
    note(text, 120, y, size=15.5, xa="right")
note("Status", 118, 107, size=15.5, xa="right")
line(49, 158, 1617, 158, width=1.4, color="#222")
rotated(["Proportion of all driver", "changes by mutation", "type (%)"], [56, 73, 91], 263)
rotated(["Driver mutation", "frequency within", "subgroup (%)"], [56, 73, 90], 458)
rotated(["MSS"], [118], 400, size=16)
rotated(["MSI"], [118], 458, size=16)
rotated(["POL"], [118], 515, size=16)
rotated(["No.", "mutant", "CRCs"], [44, 60, 76], 583, size=16)
rotated(["Biallelic", "(%)"], [67, 84], 650, size=16)
rotated(["SV CNA", "driver"], [67, 84], 727, size=16)
rotated(["Cluster", "feature"], [67, 84], 807, size=16)

# ---------------------------- panel b decoration ----------------------------
for t, b in ((872, 1128), (1138, 1393), (1404, 1454), (1465, 1515)):
    line(54, t, 54, b, width=1.5)
line(37, 1490, 54, 1490, width=1.2)
rotated(["Deletion"], [42], 999, size=16.7)
rotated(["Trandem duplication"], [42], 1265, size=16.7)
rotated(["Inversions"], [42], 1428, size=16.7)
rotated(["Translocations"], [25], 1490, size=16.7)
for text, y in (("Proportional contribution", 1565), ("of SV type to each signature", 1582), ("0%↔50%", 1598)):
    note(text, 350, y, size=16.8, xa="center")
for name, y, col in (("Deletions", 883, "#D0344C"), ("Tandem duplications", 904, "#F6A063"), ("Inversions", 923, "#F5EFC0"),
                     ("Translocations", 943, "#8CC79B"), ("Unclassified simple", 960, "#1A84B8")):
    line(490, y, 504, y, color=col, width=1.5)
    note(name, 510, y, size=16.7)

# ---------------------------- legends ----------------------------
note("Driver gene discovery status", 771, 859)
for name, y, col in (("Previously reported in CRC", 881, STATUS_COL["C"]), ("Previously reported in other cancer(s)", 902, STATUS_COL["O"]), ("New", 923, STATUS_COL["N"])):
    box(772, y - 7, 795, y + 7, col, kind="circle")
    note(name, 801, y)
note("Driver mutation function", 771, 952)
for name, y, col in (("Activating", 974, FUNC_COL["A"]), ("LOF", 993, "#1F1F5F"), ("Ambiguous", 1013, FUNC_COL["Y"]), ("Unknown", 1035, "#AAAAAA")):
    box(772, y - 7, 795, y + 7, col, kind="circle")
    note(name, 801 if name != "Unknown" else 803, y)
note("Driver mutation type", 1085, 862)
for i, (name, col) in enumerate(TYPE_COL.items()):
    y = 879 + 20 * i
    box(1087, y - 7, 1110, y + 7, col)
    note(name, 1117, y)
note("Biallelic mutations (%)", 1306, 862)
for name, t, b, col in (("20–50", 873, 889, BI_COL[1]), ("50–75", 893, 911, BI_COL[2]), (">75", 916, 933, BI_COL[3])):
    box(1309, t, 1325, b, col)
    note(name, 1330, (t + b) / 2)
note("SV (upper) and CNA (lower) drivers", 1306, 952)
box(1309, 963, 1325, 980, BLUE)
note("Putative pathogenic change", 1332, 973)
note("Driver associated with MSS clusters", 1306, 1001)
note("1:WGD-A 2:WGD-B 3:GS 4:LOH.N = high freq,", 1310, 1020)
note('<span style="color:#E41E26">N</span> = low freq, <i>q</i> &lt; 0.05 Fisher exact', 1310, 1037)

# ---------------------------- panel c decoration ----------------------------
rotated(["No. of samples"], [494.5], 1444.6, size=16)
LEAD = "3px,2.5px"
def leaders(rows_, fx):
    for text, lx, tx, vx, by_ in rows_:
        bottom = 1060 + by_ / 2.861
        if text.startswith("1p12"):
            note(text, fx(lx), 1440, size=16, xa="center", ya="bottom", angle=-90)
            line(fx(tx), 1449, fx(vx), bottom, width=1, color="#222", dash=LEAD)
            continue
        note(text, fx(lx), 1327, size=16, xa="center", ya="bottom", angle=-90)
        if tx == vx:
            line(fx(tx), 1332, fx(vx), bottom, width=1, color="#222", dash=LEAD)
        else:
            line(fx(tx), 1335, fx(vx), 1357.5, width=0.8, color="#222", dash=LEAD)
            line(fx(vx), 1357.5, fx(vx), bottom, width=1, color="#222", dash=LEAD)
leaders(labels_left, lambda v: 470 + v / 2.45)
leaders(labels_right, lambda v: 1100 + v / 2.405)

layout["annotations"] = annotations
layout["shapes"] = shapes
fig = go.Figure(data=traces, layout=layout)
fig.write_html("out.html", config={"displayModeBar": False},
               post_script="document.body.style.margin='0';document.body.style.overflow='hidden';")
